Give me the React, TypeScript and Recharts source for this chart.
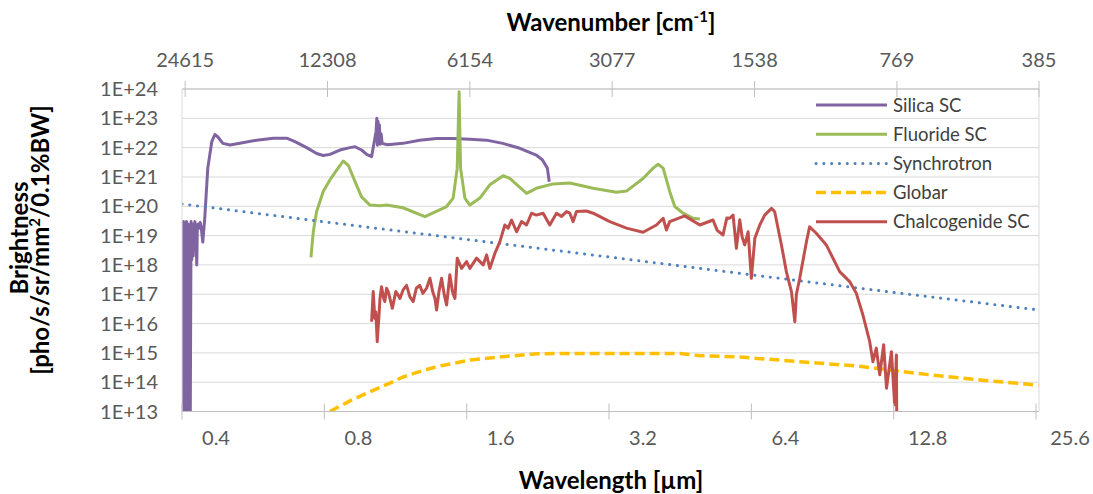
import {
  LineChart,
  Line,
  XAxis,
  YAxis,
  CartesianGrid,
  ReferenceLine,
  Customized,
} from "recharts";

const FONT = "Lato, 'Open Sans', sans-serif";

// axis ticks
const wavelengthTicks = [0.4, 0.8, 1.6, 3.2, 6.4, 12.8, 25.6];
const wavenumberTicks = [24615, 12308, 6154, 3077, 1538, 769, 385];
const brightnessTicks = [
  1e13, 1e14, 1e15, 1e16, 1e17, 1e18, 1e19, 1e20, 1e21, 1e22, 1e23, 1e24,
];

const X_MIN = 0.4;
const X_MAX = 1e4 / 385;

// Silica SC
const silicaWavelength = [
  0.4, 0.4015, 0.403, 0.4045, 0.406, 0.4075, 0.409, 0.4105, 0.412, 0.4135,
  0.415, 0.4165, 0.418, 0.4195, 0.421, 0.4225, 0.424, 0.426, 0.428, 0.4298,
  0.431, 0.433, 0.435, 0.437, 0.439, 0.4426, 0.4469, 0.4535, 0.4624, 0.4694,
  0.4764, 0.488, 0.5055, 0.53, 0.5754, 0.6238, 0.6659, 0.6934, 0.734, 0.7706,
  0.7957, 0.822, 0.863, 0.906, 0.929, 0.959, 0.983, 1.007, 1.029, 1.033,
  1.036, 1.039, 1.042, 1.046, 1.05, 1.055, 1.06, 1.088, 1.173, 1.273, 1.381,
  1.497, 1.625, 1.762, 1.907, 2.073, 2.245, 2.315, 2.37, 2.392,
];
const silicaBrightness = [
  2.5e19, 1e13, 3e19, 1e13, 2e19, 1e13, 3e19, 1.2e13, 2.5e19, 1e13, 1.5e19,
  1e13, 3e19, 1.5e18, 2.5e19, 2e18, 2e19, 3e19, 1.5e19, 1e18, 2e19, 2.5e19,
  1.8e19, 2.8e19, 2e19, 6e18, 4e19, 2e21, 1.6e22, 2.8e22, 2.3e22, 1.4e22,
  1.23e22, 1.4e22, 1.8e22, 2.1e22, 2.1e22, 1.6e22, 1e22, 6.3e21, 5.4e21,
  5.9e21, 8.3e21, 1e22, 1.07e22, 8.3e21, 5.9e21, 4.9e21, 3.5e22, 1e23, 1.2e22,
  8e22, 1.5e22, 6e22, 1.3e22, 3e22, 1.4e22, 1.25e22, 1.4e22, 1.8e22, 2.05e22,
  2.05e22, 1.95e22, 1.8e22, 1.4e22, 9.5e21, 5.6e21, 3.8e21, 2e21, 6.9e20,
];

// Fluoride SC
const fluorideWavelength = [
  0.7495, 0.758, 0.7705, 0.7957, 0.822, 0.8496, 0.877, 0.899, 0.929, 0.959,
  0.999, 1.049, 1.083, 1.173, 1.306, 1.451, 1.498, 1.528, 1.542, 1.553, 1.586,
  1.625, 1.706, 1.791, 1.911, 1.974, 2.142, 2.245, 2.438, 2.644, 2.962, 3.318,
  3.484, 3.777, 3.967, 4.065, 4.165, 4.3, 4.408, 4.59, 4.82, 4.98,
];
const fluorideBrightness = [
  1.8e18, 1.35e19, 6.6e19, 3.2e20, 7.9e20, 1.7e21, 3.5e21, 2.5e21, 6.9e20,
  2.1e20, 1.1e20, 1.05e20, 1.1e20, 8.9e19, 4.4e19, 9.8e19, 1.9e20, 2e21, 8e23,
  2e21, 1.9e20, 1.1e20, 1.9e20, 5.4e20, 1.1e21, 8.9e20, 2.75e20, 4.1e20,
  5.8e20, 6.2e20, 4.1e20, 3e20, 3.3e20, 8.9e20, 2e21, 2.7e21, 2e21, 3.2e20,
  9.8e19, 5.8e19, 3.9e19, 3.7e19,
];

// Synchrotron
const synchrotronWavelength = [0.4, 0.8, 1.6, 3.2, 6.4, 12.8, 25.97];
const synchrotronBrightness = [1.2e20, 2.95e19, 7.4e18, 1.86e18, 4.6e17, 1.15e17, 2.9e16];

// Globar
const globarWavelength = [
  0.822, 0.906, 0.999, 1.101, 1.173, 1.273, 1.384, 1.625, 1.908, 2.25, 2.59,
  3.37, 4.52, 4.98, 6.05, 8.1, 10.85, 14.3, 19.7, 25.9,
];
const globarBrightness = [
  1e13, 2.3e13, 4.7e13, 9.3e13, 1.5e14, 2.3e14, 3.4e14, 5.7e14, 7.4e14, 9.3e14,
  9.6e14, 9.6e14, 9.5e14, 8e14, 7.2e14, 5e14, 3.5e14, 2e14, 1.17e14, 7.9e13,
];

// Chalcogenide SC
const chalcogenideWavelength = [
  1.007, 1.015, 1.023, 1.028, 1.035, 1.044, 1.049, 1.057, 1.068, 1.074, 1.083,
  1.092, 1.101, 1.114, 1.133, 1.146, 1.156, 1.174, 1.194, 1.213, 1.233, 1.252,
  1.273, 1.293, 1.316, 1.338, 1.356, 1.371, 1.382, 1.398, 1.416, 1.435, 1.451,
  1.474, 1.493, 1.511, 1.528, 1.561, 1.599, 1.625, 1.679, 1.734, 1.763, 1.791,
  1.836, 1.881, 1.927, 1.958, 1.991, 2.04, 2.09, 2.142, 2.194, 2.245, 2.322,
  2.398, 2.478, 2.54, 2.602, 2.644, 2.687, 2.732, 2.868, 2.962, 3.212, 3.484,
  3.777, 4.032, 4.165, 4.233, 4.3, 4.627, 4.98, 5.31, 5.42, 5.575, 5.68, 5.76,
  5.855, 5.95, 6.049, 6.12, 6.197, 6.25, 6.3, 6.4, 6.51, 6.668, 6.83, 7.06,
  7.17, 7.41, 7.59, 7.78, 7.91, 7.97, 8.1, 8.37, 8.5, 8.78, 9.22, 9.84, 10.33,
  10.67, 11.02, 11.39, 11.57, 11.76, 11.96, 12.19, 12.36, 12.66, 12.86, 12.97,
  12.99,
];
const chalcogenideBrightness = [
  1.15e16, 1.23e17, 1.5e16, 2.5e16, 2.4e15, 1.95e16, 7.2e16, 1.8e17, 7.2e16,
  5.6e16, 1.6e17, 1.23e17, 7.2e16, 3.3e16, 1.23e17, 9.3e16, 7.2e16, 1.4e17,
  2e17, 8.3e16, 5.6e16, 1.6e17, 2e17, 1.07e17, 1.6e17, 3.5e17, 1.23e17, 7.2e16,
  2.9e16, 1.23e17, 3.5e17, 9.3e16, 4.3e16, 4.6e17, 1.23e17, 7.2e16, 1.7e18,
  7.6e17, 1.3e18, 7.6e17, 1.7e18, 1e18, 2.2e18, 7.6e17, 2.5e18, 6.2e18, 2.3e19,
  1.8e19, 3.4e19, 1.35e19, 3e19, 2.3e19, 5.8e19, 5e19, 5.8e19, 2.3e19, 5.8e19,
  4.5e19, 6.6e19, 5.8e19, 3e19, 6.6e19, 6.9e19, 5.8e19, 3e19, 1.8e19, 1.3e19,
  2.3e19, 3.9e19, 1.55e19, 3e19, 4.7e19, 2.3e19, 3.4e19, 1.5e19, 1.05e19, 4e19,
  3.9e19, 5e19, 3.7e18, 3.5e19, 9e18, 4.8e18, 8.1e18, 1.35e19, 3.5e17, 8.1e18,
  2.3e19, 5e19, 8.5e19, 6.5e19, 4.8e18, 5.9e17, 1.23e17, 1.15e16, 1e17, 3.5e17,
  6.2e18, 2e19, 1.2e19, 4.8e18, 5.9e17, 2.7e17, 1.07e17, 1.95e16, 2.4e15, 5e14,
  1.45e15, 1.8e14, 1.9e15, 6.2e13, 1.1e15, 1.7e13, 8.5e14, 1e13,
];

const zip = (xs: number[], ys: number[]) =>
  xs.map((wl, i) => ({ wl, b: ys[i] }));

const series = [
  {
    name: "Silica SC",
    data: zip(silicaWavelength, silicaBrightness),
    color: "#8064A2",
    width: 3,
    dash: undefined as string | undefined,
    cap: "butt",
  },
  {
    name: "Fluoride SC",
    data: zip(fluorideWavelength, fluorideBrightness),
    color: "#9BBB59",
    width: 3,
    dash: undefined,
    cap: "butt",
  },
  {
    name: "Synchrotron",
    data: zip(synchrotronWavelength, synchrotronBrightness),
    color: "#4F81BD",
    width: 3,
    dash: "0.1 7.7",
    cap: "round",
  },
  {
    name: "Globar",
    data: zip(globarWavelength, globarBrightness),
    color: "#FFC000",
    width: 3.5,
    dash: "10 5",
    cap: "butt",
  },
  {
    name: "Chalcogenide SC",
    data: zip(chalcogenideWavelength, chalcogenideBrightness),
    color: "#C0504D",
    width: 3,
    dash: undefined,
    cap: "butt",
  },
];

function BottomTick({ x, y, payload }: any) {
  const axisY = y - 20;
  return (
    <g>
      <line x1={x} x2={x} y1={axisY - 8} y2={axisY} stroke="#BFBFBF" />
      <text
        x={x + 34}
        y={axisY + 33.5}
        textAnchor="middle"
        fill="#595959"
        fontSize={20}
        fontFamily={FONT}
      >
        {payload.value}
      </text>
    </g>
  );
}

function TopTick({ x, y, payload }: any) {
  const axisY = y + 20;
  return (
    <g>
      <line x1={x} x2={x} y1={axisY} y2={axisY + 8} stroke="#BFBFBF" />
      <text
        x={x}
        y={axisY - 22}
        textAnchor="middle"
        fill="#595959"
        fontSize={20}
        fontFamily={FONT}
      >
        {Math.round(1e4 / payload.value)}
      </text>
    </g>
  );
}

function LeftTick({ x, y, payload }: any) {
  const exp = Math.round(Math.log10(payload.value));
  return (
    <text
      x={x}
      y={y + 7}
      textAnchor="end"
      fill="#595959"
      fontSize={20}
      fontFamily={FONT}
    >
      {`1E+${exp}`}
    </text>
  );
}

function Overlay() {
  return (
    <g fontFamily={FONT}>
      {/* axis titles */}
      <text x={611} y={31} textAnchor="middle" fontSize={24} fontWeight="bold" fill="#000">
        Wavenumber [cm
        <tspan dy={-9} fontSize={15}>-1</tspan>
        <tspan dy={9}>]</tspan>
      </text>
      <text x={611} y={489} textAnchor="middle" fontSize={24} fontWeight="bold" fill="#000">
        Wavelength [µm]
      </text>
      <text
        transform="translate(28,238) rotate(-90)"
        textAnchor="middle"
        fontSize={24}
        fontWeight="bold"
        fill="#000"
      >
        Brightness
      </text>
      <text
        transform="translate(49,240) rotate(-90)"
        textAnchor="middle"
        fontSize={24}
        fontWeight="bold"
        fill="#000"
      >
        [pho/s/sr/mm
        <tspan dy={-9} fontSize={15}>2</tspan>
        <tspan dy={9}>/0.1%BW]</tspan>
      </text>

      {/* legend */}
      {series.map((s, i) => {
        const cy = 105 + i * 29.2;
        return (
          <g key={s.name}>
            <line
              x1={816}
              x2={887}
              y1={cy}
              y2={cy}
              stroke={s.color}
              strokeWidth={s.width}
              strokeDasharray={s.dash}
              strokeLinecap={s.cap as any}
            />
            <text x={893} y={cy + 6.5} fontSize={18.5} fill="#404040">
              {s.name}
            </text>
          </g>
        );
      })}
    </g>
  );
}

export default function App() {
  return (
    <div
      style={{
        position: "absolute",
        left: 0,
        top: 0,
        width: 1093,
        height: 494,
        background: "#fff",
      }}
    >
      <LineChart
        width={1093}
        height={494}
        margin={{ top: 0, right: 54, bottom: 0, left: 0 }}
      >
        <CartesianGrid
          xAxisId="bottom"
          yAxisId="left"
          vertical={false}
          stroke="#D9D9D9"
        />
        <XAxis
          xAxisId="bottom"
          dataKey="wl"
          type="number"
          scale="log"
          domain={[X_MIN, X_MAX]}
          allowDataOverflow
          ticks={wavelengthTicks}
          interval={0}
          height={82.5}
          tickSize={8}
          tickMargin={12}
          stroke="#BFBFBF"
          tick={(p: any) => <BottomTick {...p} />}
        />
        <XAxis
          xAxisId="top"
          orientation="top"
          dataKey="wl"
          type="number"
          scale="log"
          domain={[X_MIN, X_MAX]}
          allowDataOverflow
          ticks={wavenumberTicks.map((w) => 1e4 / w)}
          interval={0}
          height={89}
          tickSize={8}
          tickMargin={12}
          stroke="#BFBFBF"
          tick={(p: any) => <TopTick {...p} />}
        />
        <YAxis
          yAxisId="left"
          type="number"
          scale="log"
          domain={[1e13, 1e24]}
          allowDataOverflow
          ticks={brightnessTicks}
          interval={0}
          width={182}
          tickSize={0}
          tickMargin={24}
          stroke="#D9D9D9"
          tick={(p: any) => <LeftTick {...p} />}
        />
        <ReferenceLine
          xAxisId="bottom"
          yAxisId="left"
          x={X_MAX}
          stroke="#D9D9D9"
        />
        {series.map((s) => (
          <Line
            key={s.name}
            name={s.name}
            data={s.data}
            dataKey="b"
            xAxisId="bottom"
            yAxisId="left"
            type="linear"
            stroke={s.color}
            strokeWidth={s.width}
            strokeDasharray={s.dash}
            strokeLinecap={s.cap as any}
            strokeLinejoin="round"
            dot={false}
            activeDot={false}
            isAnimationActive={false}
          />
        ))}
        <Customized component={Overlay} />
      </LineChart>
    </div>
  );
}
